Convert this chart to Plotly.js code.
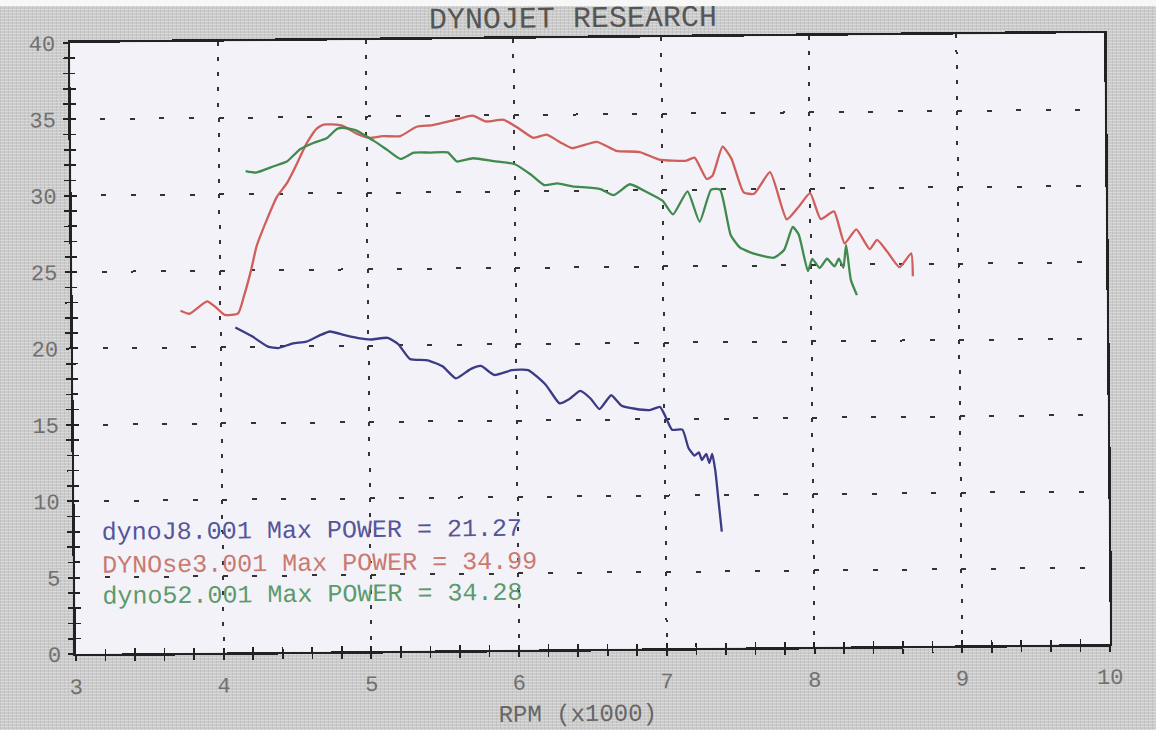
<!DOCTYPE html>
<html>
<head>
<meta charset="utf-8">
<script src="https://cdn.plot.ly/plotly-3.0.1.min.js"></script>
<style>
  html, body { margin:0; padding:0; width:1156px; height:730px; overflow:hidden; }
  body {
    background-color:#cbcbcb;
    background-image:
      repeating-linear-gradient(0deg, rgba(255,255,255,0.28) 0 1px, rgba(0,0,0,0) 1px 3px),
      repeating-linear-gradient(90deg, rgba(0,0,0,0.06) 0 1px, rgba(0,0,0,0) 1px 4px);
  }
  #chart { width:1156px; height:730px; transform: rotate(-0.55deg); transform-origin: 590px 343.5px; }
  #topstrip { position:absolute; left:0; top:0; width:1156px; height:6px; background:#f7f7f7; }
</style>
</head>
<body>
<div id="chart"></div>
<div id="topstrip"></div>
<script>
// ---- data read from the dyno sheet (RPM x1000, power) ----
const redRpm = [3.73,3.79,3.91,3.97,4.03,4.12,4.16,4.21,4.25,4.32,4.39,4.46,4.52,4.59,4.66,4.71,4.77,4.84,4.93,5.02,5.11,5.23,5.34,5.45,5.59,5.72,5.81,5.93,6.02,6.13,6.22,6.31,6.39,6.56,6.69,6.85,6.98,7.16,7.22,7.30,7.34,7.41,7.47,7.55,7.62,7.73,7.84,7.92,8.00,8.07,8.16,8.23,8.31,8.40,8.45,8.52,8.60,8.68,8.69];
const redHp  = [22.4,22.2,23.0,22.6,22.1,22.2,23.3,25.0,26.6,28.3,29.8,30.7,31.8,33.2,34.2,34.5,34.5,34.4,33.9,33.6,33.7,33.7,34.3,34.4,34.7,34.99,34.6,34.7,34.2,33.5,33.7,33.2,32.8,33.2,32.6,32.5,32.0,31.9,32.1,30.7,30.9,32.8,32.0,29.8,29.7,31.1,28.0,28.8,29.7,28.0,28.5,26.4,27.3,26.0,26.6,25.8,24.8,25.7,24.2];

const greenRpm = [4.18,4.25,4.37,4.46,4.55,4.64,4.73,4.80,4.84,4.93,5.05,5.14,5.23,5.32,5.43,5.55,5.61,5.72,5.86,6.00,6.11,6.20,6.29,6.39,6.58,6.67,6.78,6.89,7.00,7.07,7.17,7.25,7.33,7.39,7.46,7.52,7.61,7.75,7.82,7.88,7.92,7.98,8.01,8.06,8.11,8.16,8.19,8.22,8.24,8.27,8.31];
const greenHp  = [31.5,31.4,31.8,32.1,32.9,33.3,33.6,34.2,34.28,34.1,33.4,32.8,32.2,32.6,32.6,32.6,32.0,32.2,32.0,31.8,31.1,30.4,30.5,30.3,30.1,29.7,30.4,29.9,29.3,28.4,29.9,27.9,30.0,30.0,27.0,26.2,25.8,25.5,26.0,27.5,27.0,24.6,25.4,24.8,25.4,24.9,25.4,24.8,26.3,24.0,23.0];

const blueRpm = [4.10,4.21,4.32,4.39,4.49,4.58,4.67,4.74,4.84,4.93,5.02,5.13,5.20,5.28,5.40,5.50,5.59,5.69,5.76,5.85,5.97,6.08,6.20,6.29,6.36,6.43,6.50,6.56,6.64,6.71,6.80,6.90,6.97,7.00,7.05,7.12,7.16,7.20,7.23,7.25,7.28,7.30,7.32,7.34,7.36,7.38];
const blueHp  = [21.27,20.7,20.0,19.9,20.2,20.3,20.7,20.95,20.7,20.5,20.4,20.5,20.1,19.1,19.0,18.6,17.8,18.4,18.6,18.0,18.3,18.3,17.3,16.1,16.4,16.9,16.4,15.7,16.6,15.9,15.7,15.6,15.8,15.3,14.3,14.3,13.1,12.6,12.8,12.3,12.7,12.1,12.7,11.6,9.6,7.6];

const runNames  = ["dynoJ8.001", "DYNOse3.001", "dyno52.001"];
const maxPower  = ["21.27", "34.99", "34.28"];
const chartTitle = "DYNOJET RESEARCH";
const xTitle = "RPM (x1000)";

// ---- styling ----
const lineColors = ["#3b3b85", "#cf5f5a", "#3f8a4c"];
const textColors = ["#55559a", "#c97a70", "#5c9a6c"];
const mono = "Liberation Mono, Courier New, monospace";

const lineStyle = (c) => ({color: c, width: 2.3, shape: "spline", smoothing: 0.5});
const traces = [
  {x: blueRpm,  y: blueHp,  type: "scatter", mode: "lines", line: lineStyle(lineColors[0]), showlegend: false, hoverinfo: "skip"},
  {x: redRpm,   y: redHp,   type: "scatter", mode: "lines", line: lineStyle(lineColors[1]), showlegend: false, hoverinfo: "skip"},
  {x: greenRpm, y: greenHp, type: "scatter", mode: "lines", line: lineStyle(lineColors[2]), showlegend: false, hoverinfo: "skip"},
  {x: [], y: [], xaxis: "x2", yaxis: "y2", type: "scatter", mode: "lines", showlegend: false, hoverinfo: "skip"}
];

const legendY = [7.9, 5.74, 3.71];
const annotations = [
  {text: chartTitle, xref: "paper", yref: "paper", x: 0.4865, y: 1.031, xanchor: "center", yanchor: "middle", showarrow: false,
   font: {family: mono, size: 30, color: "#555555"}},
  {text: xTitle, xref: "paper", yref: "paper", x: 0.4845, y: -0.108, xanchor: "center", yanchor: "middle", showarrow: false,
   font: {family: mono, size: 24, color: "#666666"}}
];
runNames.forEach((n, i) => {
  annotations.push({text: n + " Max POWER = " + maxPower[i], xref: "x", yref: "y", x: 3.17, y: legendY[i],
    xanchor: "left", yanchor: "middle", showarrow: false, font: {family: mono, size: 25, color: textColors[i]}});
});

const tickCol = "#222222";
const layout = {
  width: 1156, height: 730,
  margin: {l: 73, r: 49, t: 38, b: 81, pad: 0},
  paper_bgcolor: "rgba(0,0,0,0)",
  plot_bgcolor: "#f3f2f8",
  showlegend: false,
  xaxis: {
    range: [3, 10], tick0: 3, dtick: 1, zeroline: false,
    showgrid: true, gridcolor: "#333333", gridwidth: 2, griddash: "4px,11.27px",
    showline: true, linecolor: "#222222", linewidth: 2.5, mirror: true,
    ticks: "outside", ticklen: 5, tickwidth: 2, tickcolor: tickCol,
    minor: {dtick: 0.2, ticks: "outside", ticklen: 5, tickwidth: 1.6, tickcolor: tickCol, showgrid: false},
    tickfont: {family: mono, size: 22, color: "#707070"}, ticklabelstandoff: 6
  },
  yaxis: {
    range: [0, 40], tick0: 0, dtick: 5, zeroline: false,
    showgrid: true, gridcolor: "#333333", gridwidth: 2, griddash: "5px,24.54px",
    showline: true, linecolor: "#222222", linewidth: 2.5, mirror: true,
    ticks: "outside", ticklen: 5, tickwidth: 2, tickcolor: tickCol,
    minor: {dtick: 1, ticks: "outside", ticklen: 5, tickwidth: 1.6, tickcolor: tickCol, showgrid: false},
    tickfont: {family: mono, size: 22, color: "#707070"}, ticklabelstandoff: 3
  },
  xaxis2: {
    overlaying: "x", anchor: "y2", range: [3, 10], tick0: 3, dtick: 1, zeroline: false,
    showgrid: false, showline: false, showticklabels: false,
    ticks: "inside", ticklen: 5, tickwidth: 2, tickcolor: tickCol,
    minor: {dtick: 0.2, ticks: "inside", ticklen: 5, tickwidth: 1.6, tickcolor: tickCol, showgrid: false}
  },
  yaxis2: {
    overlaying: "y", anchor: "x2", range: [0, 40], tick0: 0, dtick: 5, zeroline: false,
    showgrid: false, showline: false, showticklabels: false,
    ticks: "inside", ticklen: 5, tickwidth: 2, tickcolor: tickCol,
    minor: {dtick: 1, ticks: "inside", ticklen: 5, tickwidth: 1.6, tickcolor: tickCol, showgrid: false}
  },
  annotations: annotations
};

Plotly.newPlot("chart", traces, layout, {displayModeBar: false, staticPlot: true});
</script>
</body>
</html>
